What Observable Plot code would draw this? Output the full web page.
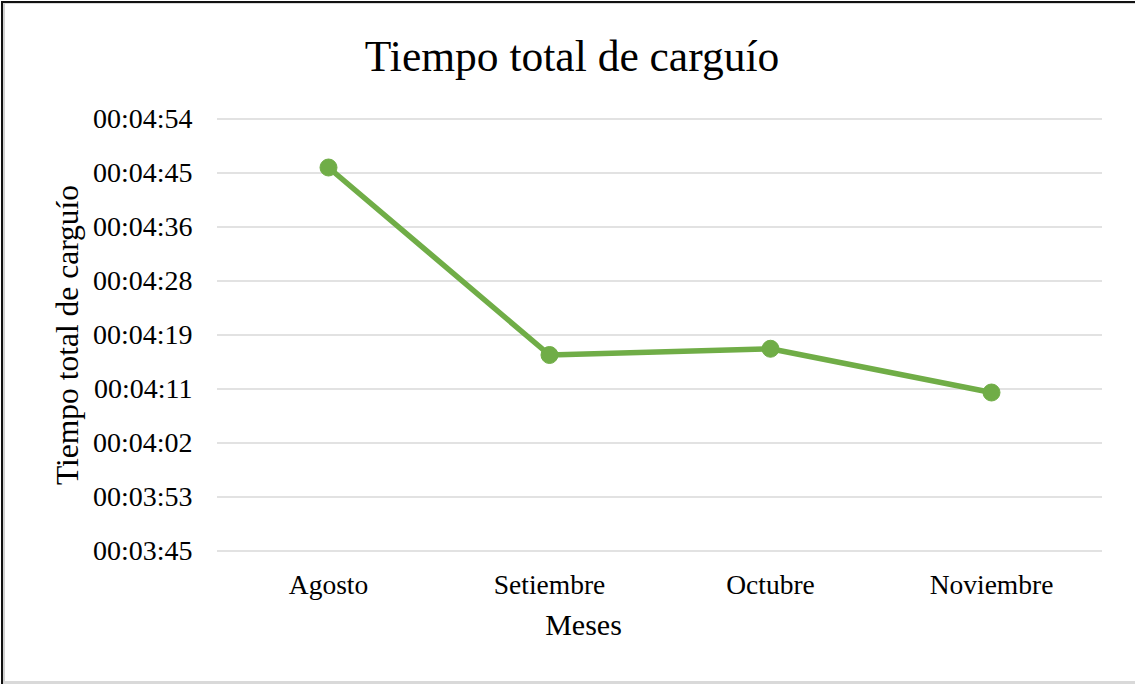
<!DOCTYPE html>
<html>
<head>
<meta charset="utf-8">
<script src="https://cdn.jsdelivr.net/npm/d3@7"></script>
<script src="https://cdn.jsdelivr.net/npm/@observablehq/plot@0.6"></script>
<style>
  html, body { margin: 0; padding: 0; background: #fff; }
  #wrap { position: relative; width: 1135px; height: 684px; overflow: hidden; background: #fff; }
  #frameA { position: absolute; left: 1px; top: 1px; right: -10px; bottom: -10px; border-top: 2px solid #111; border-left: 2px solid #111; }
  #frameB { position: absolute; left: 3px; top: 3px; right: -10px; bottom: 0px; border-top: 1px solid #d9d9d9; border-left: 2px solid #d0d0d0; border-bottom: 3px solid #d9d9d9; }
  #chart { position: absolute; left: 0; top: 0; }
</style>
</head>
<body>
<div id="wrap">
  <div id="frameA"></div>
  <div id="frameB"></div>
  <div id="chart"></div>
</div>
<script>
const titleText = "Tiempo total de carguío";
const yAxisTitle = "Tiempo total de carguío";
const xAxisTitle = "Meses";
const months = ["Agosto", "Setiembre", "Octubre", "Noviembre"];
const seconds = [286, 256, 257, 250];
const yTickValues = [224.64, 233.28, 241.92, 250.56, 259.2, 267.84, 276.48, 285.12, 293.76];
const yTickLabels = ["00:03:45", "00:03:53", "00:04:02", "00:04:11", "00:04:19", "00:04:28", "00:04:36", "00:04:45", "00:04:54"];

const data = months.map((m, i) => ({month: m, sec: seconds[i]}));
const labelMap = new Map(yTickValues.map((v, i) => [v, yTickLabels[i]]));
const green = "#70AD47";

const chart = Plot.plot({
  width: 1135,
  height: 684,
  marginLeft: 217,
  marginRight: 33,
  marginTop: 118.5,
  marginBottom: 133.5,
  style: {fontFamily: "'Liberation Serif', 'Times New Roman', serif", background: "transparent", color: "#000", overflow: "visible"},
  x: {type: "point", domain: months, padding: 0.5, label: null},
  y: {domain: [yTickValues[0], yTickValues[yTickValues.length - 1]], label: null},
  marks: [
    Plot.ruleY(yTickValues, {stroke: "#d9d9d9", strokeWidth: 1.7}),
    Plot.axisY(yTickValues, {tickSize: 0, tickPadding: 25, fontSize: 28, tickFormat: d => labelMap.get(d), label: null, fill: "#000"}),
    Plot.axisX({tickSize: 0, tickPadding: 23, fontSize: 27.5, label: null, fill: "#000"}),
    Plot.line(data, {x: "month", y: "sec", stroke: green, strokeWidth: 5.5, strokeLinejoin: "round", strokeLinecap: "round"}),
    Plot.dot(data, {x: "month", y: "sec", r: 8.5, fill: green, stroke: green, strokeWidth: 1}),
    Plot.text([titleText], {frameAnchor: "top", textAnchor: "middle", dx: -88, dy: -47.8, lineAnchor: "bottom", fontSize: 43.5, fill: "#000"}),
    Plot.text([yAxisTitle], {frameAnchor: "left", textAnchor: "middle", rotate: -90, dx: -140, lineAnchor: "bottom", fontSize: 31.5, fill: "#000"}),
    Plot.text([xAxisTitle], {frameAnchor: "bottom", textAnchor: "middle", dx: -76.5, dy: 83.5, lineAnchor: "bottom", fontSize: 30, fill: "#000"})
  ]
});
document.getElementById("chart").appendChild(chart);
</script>
</body>
</html>
